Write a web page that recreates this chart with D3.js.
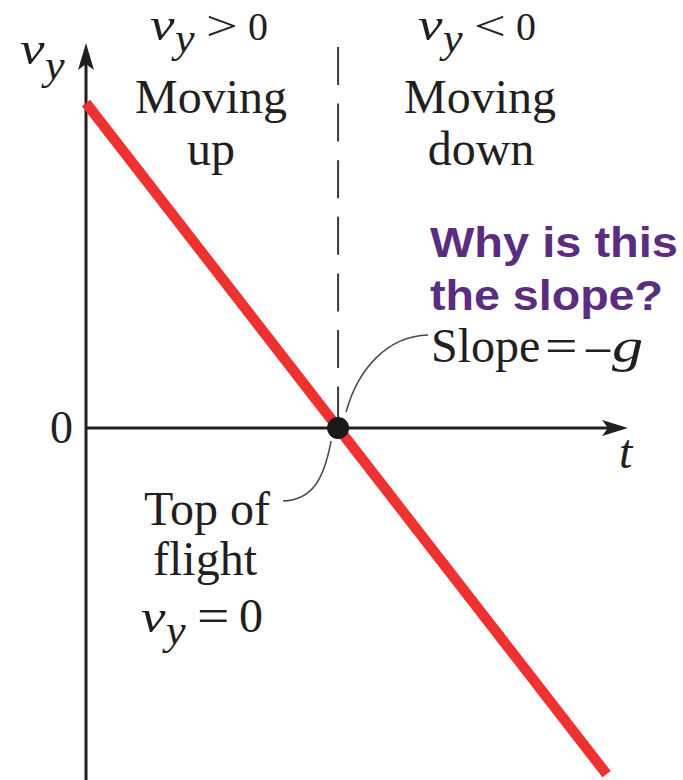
<!DOCTYPE html>
<html>
<head>
<meta charset="utf-8">
<script src="https://cdn.jsdelivr.net/npm/d3@7/dist/d3.min.js"></script>
<style>
  html, body { margin: 0; padding: 0; background: #fff; }
  svg { display: block; }
  .serif { font-family: "Liberation Serif", "Times New Roman", serif; fill: #231f20; }
  .it { font-style: italic; }
</style>
</head>
<body>
<script>
// Vertical velocity of a projectile thrown straight up (g ≈ 10 m/s²)
const times = [0, 2.0, 4.13];          // s
const velocities = [20, 0, -21.3];     // m/s
const tTop = 2.0;                      // instant of zero velocity (top of flight)
const yTickLabels = ["0"];

const W = 683, H = 780;
const svg = d3.select("body").append("svg").attr("width", W).attr("height", H);

// Scales: t -> x pixels, vy -> y pixels
const x = d3.scaleLinear().domain([0, 4.3]).range([86, 628]);
const y = d3.scaleLinear().domain([0, 20]).range([428, 103]);

const x0 = x(0), y0 = y(0);
const axisColor = "#231f20";

// Vertical axis (v_y)
svg.append("line")
  .attr("x1", x0).attr("x2", x0)
  .attr("y1", H).attr("y2", 60)
  .attr("stroke", axisColor).attr("stroke-width", 3);
svg.append("path")
  .attr("d", `M${x0},43 L${x0 + 8},70 L${x0},64 L${x0 - 8},70 Z`)
  .attr("fill", axisColor);

// Horizontal axis (t)
const xEnd = x.range()[1];
svg.append("line")
  .attr("x1", x0).attr("x2", xEnd - 15)
  .attr("y1", y0).attr("y2", y0)
  .attr("stroke", axisColor).attr("stroke-width", 3);
svg.append("path")
  .attr("d", `M${xEnd},${y0} L${xEnd - 26},${y0 - 8} L${xEnd - 20},${y0} L${xEnd - 26},${y0 + 8} Z`)
  .attr("fill", axisColor);

// Dashed divider at top of flight
svg.append("line")
  .attr("x1", x(tTop)).attr("x2", x(tTop))
  .attr("y1", 47).attr("y2", y0 - 8)
  .attr("stroke", "#3a3a3a").attr("stroke-width", 2)
  .attr("stroke-dasharray", "38,18.6");

// Velocity line
const line = d3.line().x((d, i) => x(times[i])).y(d => y(d));
svg.append("path")
  .datum(velocities)
  .attr("d", line)
  .attr("fill", "none")
  .attr("stroke", "#ee3131")
  .attr("stroke-width", 10.5);

// Leader curves
const xt = x(tTop);
svg.append("path")
  .attr("d", `M${xt + 8},${y0 - 16} C${xt + 20},${y0 - 60} ${xt + 50},${y0 - 92} ${xt + 90},${y0 - 93}`)
  .attr("fill", "none").attr("stroke", "#4a4a4a").attr("stroke-width", 1.5);
svg.append("path")
  .attr("d", `M${xt - 7},${y0 + 13} C${xt - 14},${y0 + 50} ${xt - 25},${y0 + 72} ${xt - 55},${y0 + 73}`)
  .attr("fill", "none").attr("stroke", "#4a4a4a").attr("stroke-width", 1.5);

// Top-of-flight point
svg.append("circle")
  .attr("cx", x(times[1])).attr("cy", y(velocities[1]))
  .attr("r", 11).attr("fill", "#1a1a1a");

// Tick label on the vertical axis
svg.selectAll("text.ytick").data(yTickLabels).enter().append("text")
  .attr("class", "serif ytick")
  .attr("x", x0 - 13).attr("y", d => y(+d) + 15)
  .attr("text-anchor", "end")
  .attr("font-size", 46)
  .text(d => d);

// Places one glyph run at (gx, base), optionally italic and widened horizontally
function glyph(gx, base, str, size, italic, sx = 1) {
  return svg.append("text")
    .attr("class", italic ? "serif it" : "serif")
    .attr("transform", `translate(${gx},${base}) scale(${sx},1)`)
    .attr("font-size", size)
    .text(str);
}

// v with subscript y, then an optional relation and value
function vyExpr(vx, base, rel, val, o) {
  glyph(vx, base, "v", o.v, true, 1.2);
  glyph(vx + o.yOff, base + o.sub, "y", o.s, true, 1.05);
  if (rel) glyph(vx + o.relOff, base, rel, o.r, false, o.relSx);
  if (val) glyph(vx + o.valOff, base, val, o.n, false, 1);
}

// Axis labels
vyExpr(20, 64, null, null, { v: 46, s: 42, yOff: 25, sub: 15 });
svg.append("text").attr("class", "serif it")
  .attr("x", 619).attr("y", 468).attr("font-size", 48).text("t");

// Region captions
const headStyle = { v: 46, s: 42, yOff: 25, sub: 12, r: 42, relSx: 1.35, relOff: 56, n: 40, valOff: 98 };
vyExpr(150, 40, ">", "0", headStyle);
vyExpr(418, 40, "<", "0", headStyle);

const caps = [
  { x: 211, y: 113, t: "Moving" },
  { x: 211, y: 165, t: "up" },
  { x: 480, y: 113, t: "Moving" },
  { x: 481, y: 165, t: "down" },
  { x: 207, y: 525, t: "Top of" },
  { x: 205, y: 575, t: "flight" }
];
svg.selectAll("text.cap").data(caps).enter().append("text")
  .attr("class", "serif cap")
  .attr("x", d => d.x).attr("y", d => d.y)
  .attr("text-anchor", "middle")
  .attr("font-size", 48)
  .text(d => d.t);

vyExpr(141, 632, "=", "0",
  { v: 46, s: 42, yOff: 25, sub: 12, r: 48, relSx: 1.2, relOff: 56, n: 48, valOff: 98 });

// Slope annotation
glyph(431, 362, "Slope", 48, false, 1);
glyph(545, 362, "=", 48, false, 1.2);
glyph(586, 362, "\u2013", 48, false, 1);
glyph(612, 362, "g", 48, true, 1.3);

// Question
const q = [
  { y: 257, t: "Why is this", w: 248 },
  { y: 310, t: "the slope?", w: 233 }
];
svg.selectAll("text.q").data(q).enter().append("text")
  .attr("class", "q")
  .attr("x", 430).attr("y", d => d.y)
  .attr("font-family", "'Liberation Sans', Arial, sans-serif")
  .attr("font-weight", "bold")
  .attr("font-size", 42)
  .attr("fill", "#5a2d81")
  .attr("textLength", d => d.w)
  .attr("lengthAdjust", "spacingAndGlyphs")
  .text(d => d.t);
</script>
</body>
</html>
